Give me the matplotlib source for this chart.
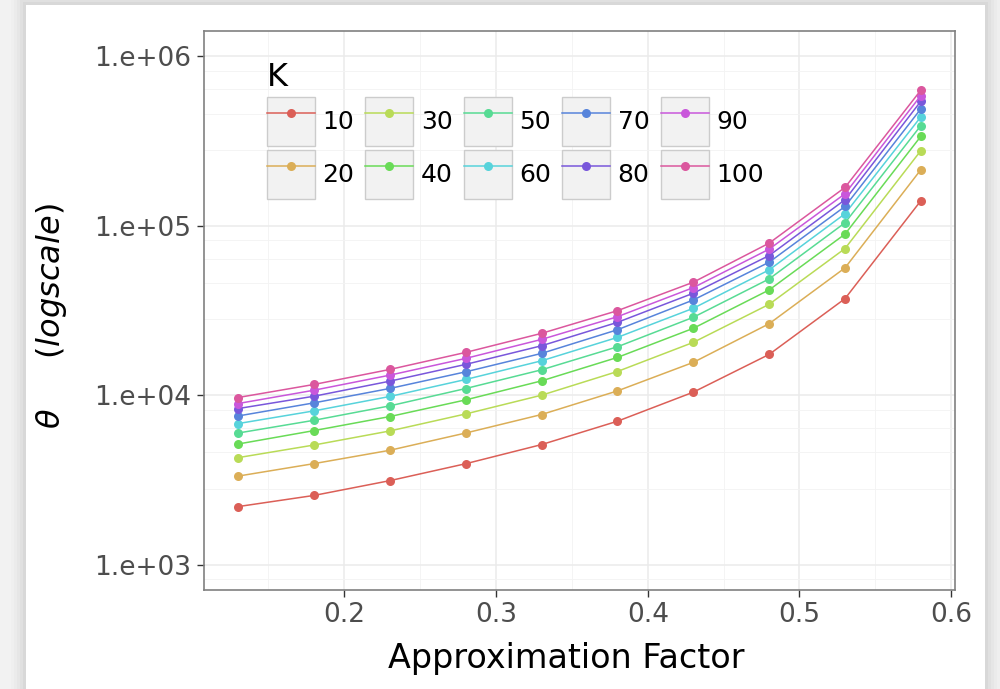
import numpy as np
import matplotlib
matplotlib.use("Agg")
import matplotlib.pyplot as plt
from matplotlib.patches import Rectangle
from matplotlib.legend_handler import HandlerLine2D
from matplotlib.ticker import FixedLocator

plt.rcParams["font.family"] = "DejaVu Sans"

# Data
approx_factor = [0.13, 0.18, 0.23, 0.28, 0.33, 0.38, 0.43, 0.48, 0.53, 0.58]
k_values = [10, 20, 30, 40, 50, 60, 70, 80, 90, 100]

theta_k10 = [2200, 2560, 3130, 3940, 5110, 7020, 10420, 17410, 37150, 140600]
theta_k20 = [3330, 3945, 4730, 5980, 7690, 10600, 15620, 26420, 56440, 214400]
theta_k30 = [4280, 5080, 6150, 7750, 10000, 13800, 20500, 34400, 73400, 277800]
theta_k40 = [5150, 6180, 7480, 9380, 12150, 16710, 24820, 41820, 89300, 337600]
theta_k50 = [5980, 7110, 8650, 10950, 14120, 19310, 28830, 48570, 104200, 390600]
theta_k60 = [6800, 8080, 9830, 12380, 15960, 21940, 32590, 54920, 117800, 439700]
theta_k70 = [7540, 9010, 10960, 13740, 17650, 24340, 36480, 60970, 130100, 490300]
theta_k80 = [8340, 9860, 12100, 15200, 19580, 26920, 39990, 66730, 142500, 543800]
theta_k90 = [8930, 10700, 13130, 16490, 21350, 29060, 43150, 72810, 154600, 587600]
theta_k100 = [9690, 11570, 14190, 17890, 23180, 31540, 46440, 79010, 168500, 632000]

series = [theta_k10, theta_k20, theta_k30, theta_k40, theta_k50,
          theta_k60, theta_k70, theta_k80, theta_k90, theta_k100]

colors = ["#db5f57", "#dbae57", "#b9db57", "#69db57", "#57db94",
          "#57d3db", "#5784db", "#7957db", "#c957db", "#db579e"]

y_major = [1e3, 1e4, 1e5, 1e6]
y_labels = ["1.e+03", "1.e+04", "1.e+05", "1.e+06"]
x_major = [0.2, 0.3, 0.4, 0.5, 0.6]
x_minor = [0.15, 0.25, 0.35, 0.45, 0.55]


class KeyBox(HandlerLine2D):
    # ggplot-like legend key: grey square behind the line + point
    def create_artists(self, legend, orig_handle, xdescent, ydescent,
                       width, height, fontsize, trans):
        box = Rectangle((-xdescent, -ydescent), width, height,
                        facecolor="#f2f2f2", edgecolor="#cccccc",
                        lw=1.0, transform=trans)
        arts = super().create_artists(legend, orig_handle, xdescent, ydescent,
                                      width, height, fontsize, trans)
        return [box] + arts


fig = plt.figure(figsize=(10, 6.89), dpi=100)
fig.patch.set_facecolor("#f2f2f2")
# card with a soft shadow
for i, a in enumerate([0.012, 0.015, 0.02, 0.025, 0.03]):
    d = (5 - i) * 3
    fig.patches.append(Rectangle(((26 - d) / 1000, 0), (959 + 2 * d) / 1000,
                                 (684 + d) / 689, transform=fig.transFigure,
                                 facecolor="black", alpha=a, lw=0, zorder=-3))
fig.patches.append(Rectangle((26 / 1000, 0), 959 / 1000, 684 / 689,
                             transform=fig.transFigure, facecolor="white",
                             lw=0, zorder=-2))

ax = fig.add_axes([0.204, 99 / 689, 0.751, 559 / 689])
ax.set_facecolor("white")

for k, vals, c in zip(k_values, series, colors):
    ax.plot(approx_factor, vals, color=c, lw=1.1, marker="o",
            markersize=6.5, markeredgewidth=0, label=str(k))

ax.set_yscale("log")
ax.set_ylim(10 ** 2.85, 10 ** 6.15)
ax.set_xlim(0.1075, 0.6025)

ax.set_yticks(y_major)
ax.set_yticklabels(y_labels)
minor_y = []
for d in range(2, 6):
    base = 10 ** d
    minor_y += [base + 9 * base / 5 * k for k in range(1, 5)]
ax.yaxis.set_minor_locator(FixedLocator(minor_y))
ax.yaxis.set_minor_formatter(plt.NullFormatter())
ax.set_xticks(x_major)
ax.set_xticklabels([f"{v:.1f}" for v in x_major])
ax.xaxis.set_minor_locator(FixedLocator(x_minor))

ax.grid(which="major", color="#ebebeb", lw=1.1)
ax.grid(which="minor", color="#f3f3f3", lw=0.6)
ax.set_axisbelow(True)
ax.tick_params(which="minor", length=0)
ax.tick_params(which="major", length=5, width=1.0, color="#333333",
               labelcolor="#4d4d4d", labelsize=19, pad=4)
for s in ax.spines.values():
    s.set_color("#808080")
    s.set_linewidth(1.2)

ax.set_xlabel("Approximation Factor", fontsize=24)
ax.xaxis.set_label_coords(0.483, -0.093)
ax.set_ylabel(r"$\theta$     $\mathit{(logscale)}$", fontsize=23)
ax.yaxis.set_label_coords(-0.18, 0.49)

leg = ax.legend(title="K", ncol=5, loc="upper left",
                bbox_to_anchor=(0.084, 0.944), frameon=False, numpoints=1,
                fontsize=18, title_fontproperties={"size": 23},
                alignment="left", handlelength=1.92, handleheight=2.64,
                labelspacing=0.15, handletextpad=0.3, columnspacing=0.44,
                borderpad=0, borderaxespad=0,
                handler_map={matplotlib.lines.Line2D: KeyBox()})

fig.savefig("out.png", dpi=100)
